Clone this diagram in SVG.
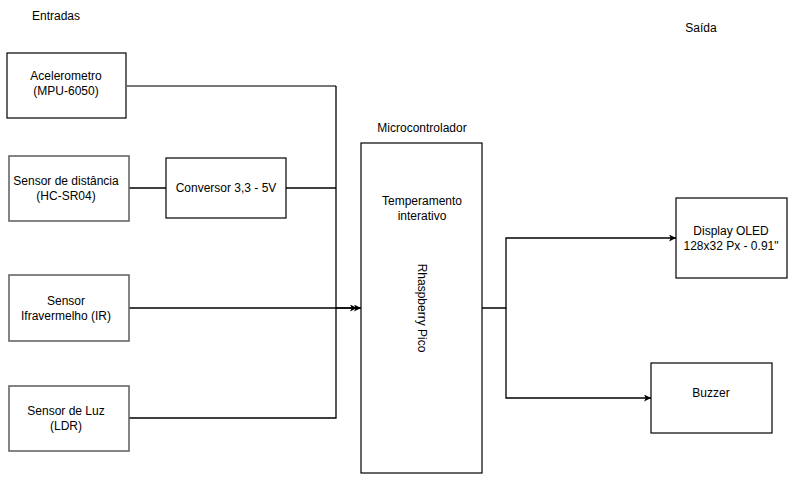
<svg xmlns="http://www.w3.org/2000/svg" width="800" height="487" viewBox="0 0 800 487">
<defs>
<marker id="ah" viewBox="0 0 10 10" refX="10" refY="5" markerWidth="7" markerHeight="7" markerUnits="userSpaceOnUse" orient="auto">
<path d="M0,0 L10,5 L0,10 L2.5,5 Z" fill="#000"/>
</marker>
<style>
.box{fill:#fff;stroke:#000;stroke-width:1.2}
.gbox{fill:#fff;stroke:#666;stroke-width:1.6}
.t{font-family:"Liberation Sans",Arial,sans-serif;font-size:12px;fill:#000;text-anchor:middle}
.c{fill:none;stroke:#000;stroke-width:1.3}
.cg{fill:none;stroke:#777;stroke-width:1.8}
</style>
</defs>
<rect width="800" height="487" fill="#fff"/>
<text class="t" x="56" y="20">Entradas</text>
<text class="t" x="701" y="32">Saída</text>
<text class="t" x="422" y="132">Microcontrolador</text>
<g id="connectors">
<path class="cg" d="M127,86 H336"/>
<path class="c" d="M336,86 V308"/>
<path class="c" d="M129,188 H166"/>
<path class="c" d="M286,188 H336"/>
<path class="c" d="M129,418 H336 V308"/>
<path class="c" d="M336,308 H357" marker-end="url(#ah)"/>
<path class="c" d="M129,308 H361" marker-end="url(#ah)"/>
<path class="c" d="M482,308 H506 V238 H676" marker-end="url(#ah)"/>
<path class="c" d="M506,308 V398 H651" marker-end="url(#ah)"/>
</g>
<g id="acelerometro">
<rect class="box" x="7" y="53" width="119" height="65"/>
<text class="t" x="66" y="80">Acelerometro</text>
<text class="t" x="66" y="95">(MPU-6050)</text>
</g>
<g id="distancia">
<rect class="gbox" x="9" y="156" width="120" height="65"/>
<text class="t" x="66" y="185">Sensor de distância</text>
<text class="t" x="66" y="200">(HC-SR04)</text>
</g>
<g id="conversor">
<rect class="box" x="166" y="158" width="120" height="60"/>
<text class="t" x="226" y="192">Conversor 3,3 - 5V</text>
</g>
<g id="ir">
<rect class="gbox" x="9" y="275" width="120" height="66"/>
<text class="t" x="66" y="305">Sensor</text>
<text class="t" x="66" y="320">Ifravermelho (IR)</text>
</g>
<g id="ldr">
<rect class="gbox" x="9" y="386" width="120" height="65"/>
<text class="t" x="66" y="415">Sensor de Luz</text>
<text class="t" x="66" y="430">(LDR)</text>
</g>
<g id="micro">
<rect class="box" x="361" y="143" width="121" height="330"/>
<text class="t" x="422" y="205">Temperamento</text>
<text class="t" x="422" y="220">interativo</text>
<text class="t" transform="translate(418,308) rotate(90)" x="0" y="0">Rhaspberry Pico</text>
</g>
<g id="display">
<rect class="box" x="676" y="198" width="111" height="80"/>
<text class="t" x="731" y="235">Display OLED</text>
<text class="t" x="731" y="250">128x32 Px - 0.91"</text>
</g>
<g id="buzzer">
<rect class="box" x="651" y="363" width="121" height="70"/>
<text class="t" x="711" y="397">Buzzer</text>
</g>
</svg>
